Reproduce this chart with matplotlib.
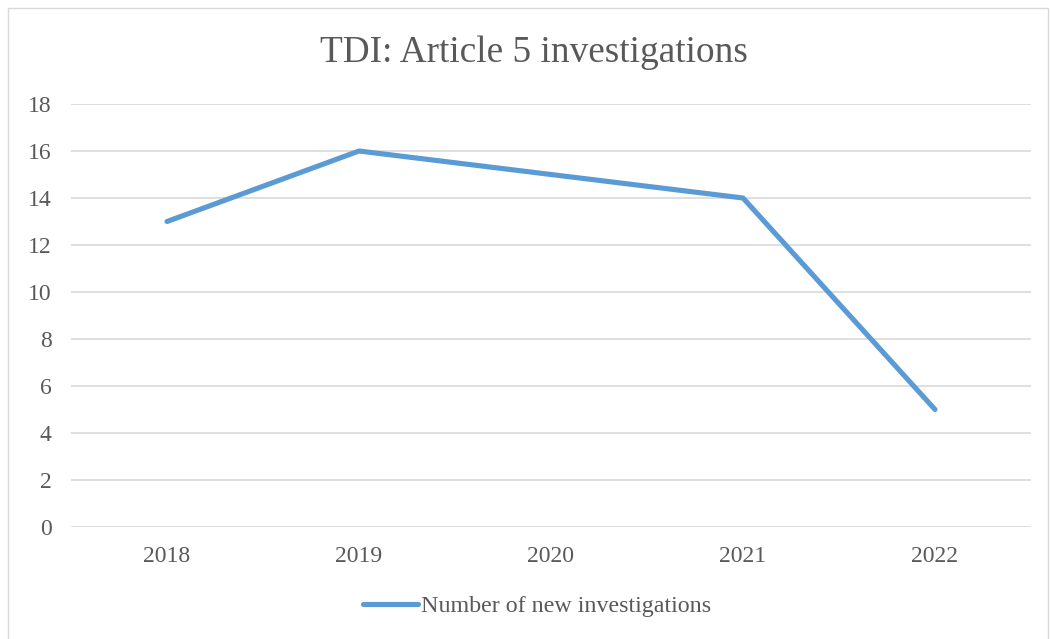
import matplotlib
matplotlib.use("Agg")
import matplotlib.pyplot as plt
from matplotlib.patches import Rectangle

years = ["2018", "2019", "2020", "2021", "2022"]
values = [13, 16, 15, 14, 5]
series_name = "Number of new investigations"
title = "TDI: Article 5 investigations"
yticks = [0, 2, 4, 6, 8, 10, 12, 14, 16, 18]

plt.rcParams['font.family'] = ['Liberation Serif', 'DejaVu Serif']
txt = '#595959'
grid = '#D9D9D9'
blue = '#5B9BD5'

fig = plt.figure(figsize=(10.5, 6.39), dpi=100)
fig.patches.append(Rectangle((8/1050, -0.1), 1040/1050, 1.1 - 8/639, transform=fig.transFigure,
                             fill=False, edgecolor='#D9D9D9', linewidth=1.0))
ax = fig.add_axes([71/1050, 1 - 527/639, 960/1050, 423/639])
x = list(range(len(years)))
ax.plot(x, values, color=blue, linewidth=3.7, solid_capstyle='round', solid_joinstyle='round',
        label=series_name)
ax.set_xlim(-0.5, len(years) - 0.5)
ax.set_ylim(0, 18)
ax.set_yticks(yticks)
ax.set_xticks(x)
ax.set_xticklabels(years)
ax.grid(axis='y', color=grid, linewidth=1.2)
ax.set_axisbelow(True)
for s in ax.spines.values():
    s.set_visible(False)
ax.tick_params(axis='both', length=0, labelsize=17, colors=txt)
ax.tick_params(axis='y', pad=14)
ax.tick_params(axis='x', pad=13.5)
fig.text(534/1050, 1 - 53/639, title, ha='center', va='center', fontsize=26.8, color=txt)
leg = fig.legend(loc='center', bbox_to_anchor=(537/1050, 1 - 606/639), frameon=False,
                 fontsize=17.3, handlelength=2.3, handletextpad=0.1, labelcolor=txt)
fig.savefig("out.png", dpi=100)
